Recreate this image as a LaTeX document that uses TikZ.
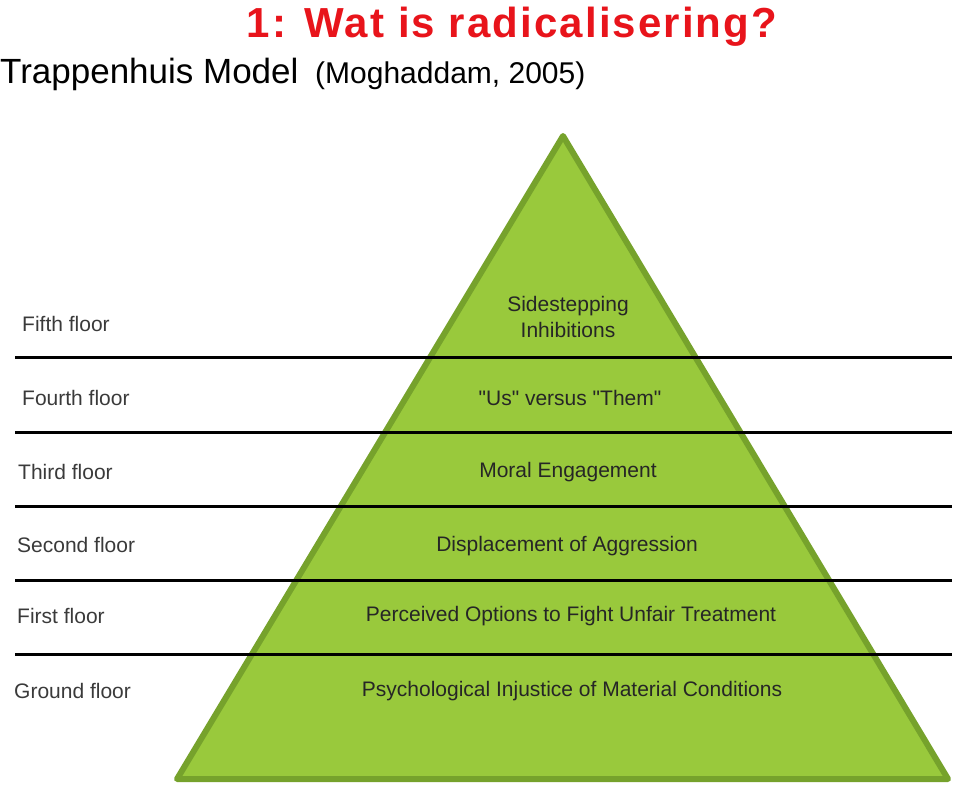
\documentclass[tikz,border=0pt]{standalone}
\usepackage{fontspec}
\setmainfont{Liberation Sans}
\usepackage{tikz}
\definecolor{pyrfill}{HTML}{99C93C}
\definecolor{pyredge}{HTML}{76A22C}
\definecolor{titlered}{HTML}{E8141B}
\definecolor{labelgray}{HTML}{3A3A3A}
\tikzstyle{floorline}=[line width=3pt, black]
\tikzstyle{floorlabel}=[anchor=west, inner sep=0pt, text=labelgray, font=\fontsize{21}{23}\selectfont]
\tikzstyle{stage}=[inner sep=0pt, align=center, text=black!85, font=\fontsize{21}{26}\selectfont]

\begin{document}
\begin{tikzpicture}[x=1pt, y=-1pt]
        \useasboundingbox (0, 0) rectangle (960, 790);
        % heading
        \node[anchor=base, inner sep=0pt, text=titlered, font=\fontsize{42}{42}\bfseries\selectfont] (title) at (512, 37) {\addfontfeature{LetterSpace=5}1: Wat is radicalisering?};
        \node[anchor=base west, inner sep=0pt, font=\fontsize{35}{35}\selectfont] (model) at (0, 83) {Trappenhuis Model};
        \node[anchor=base west, inner sep=0pt, font=\fontsize{30}{30}\selectfont] (source) at (315, 83) {(Moghaddam, 2005)};
        % pyramid
        \coordinate (apex) at (563, 136);
        \coordinate (baseL) at (177, 779);
        \coordinate (baseR) at (948, 779);
        \draw[fill=pyrfill, draw=pyredge, line width=6pt, line join=round] (apex) -- (baseR) -- (baseL) -- cycle;
        % floors
        \coordinate (l5) at (15, 357);  \coordinate (r5) at (952, 357);
        \coordinate (l4) at (15, 432);  \coordinate (r4) at (952, 432);
        \coordinate (l3) at (15, 506);  \coordinate (r3) at (952, 506);
        \coordinate (l2) at (15, 580);  \coordinate (r2) at (952, 580);
        \coordinate (l1) at (15, 654);  \coordinate (r1) at (952, 654);
        \draw[floorline] (l5) -- (r5);
        \draw[floorline] (l4) -- (r4);
        \draw[floorline] (l3) -- (r3);
        \draw[floorline] (l2) -- (r2);
        \draw[floorline] (l1) -- (r1);
        \node[floorlabel] (fifth) at (22, 324) {Fifth floor};
        \node[floorlabel] (fourth) at (22, 398) {Fourth floor};
        \node[floorlabel] (third) at (18, 472) {Third floor};
        \node[floorlabel] (second) at (17, 545) {Second floor};
        \node[floorlabel] (first) at (17, 616) {First floor};
        \node[floorlabel] (ground) at (14, 691) {Ground floor};
        \node[stage] (sidestep) at (568, 317) {Sidestepping\\Inhibitions};
        \node[stage] (usthem) at (570, 398) {\textquotedbl Us\textquotedbl\ versus \textquotedbl Them\textquotedbl};
        \node[stage] (moral) at (568, 472) {Moral Engagement};
        \node[stage] (displace) at (567, 546) {Displacement of Aggression};
        \node[stage] (options) at (571, 616) {Perceived Options to Fight Unfair Treatment};
        \node[stage] (injustice) at (572, 691) {Psychological Injustice of Material Conditions};
    \end{tikzpicture}
\end{document}
